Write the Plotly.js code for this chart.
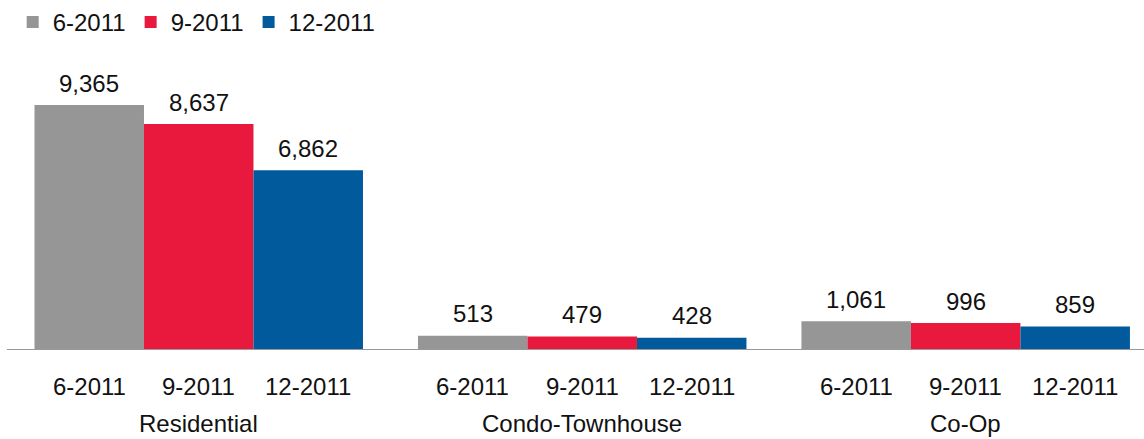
<!DOCTYPE html>
<html>
<head>
<meta charset="utf-8">
<script src="https://cdn.plot.ly/plotly-3.0.1.min.js"></script>
<style>html,body{margin:0;padding:0;background:#fff;}#chart{width:1144px;height:439px;}</style>
</head>
<body>
<div id="chart"></div>
<script>
const groups = ['Residential', 'Condo-Townhouse', 'Co-Op'];
const periods = ['6-2011', '9-2011', '12-2011'];
const values_6_2011 = [9365, 513, 1061];
const values_9_2011 = [8637, 479, 996];
const values_12_2011 = [6862, 428, 859];
const seriesValues = [values_6_2011, values_9_2011, values_12_2011];
const colors = ['#969696', '#E8193C', '#005A9C'];

const FONT = 'Liberation Sans, Arial, Helvetica, sans-serif';
const FS = 24;
const bargap = 0.1434;

const traces = periods.map((p, j) => ({
  type: 'bar',
  name: p,
  x: groups,
  y: seriesValues[j],
  marker: {color: colors[j], line: {width: 0}},
  hoverinfo: 'none'
}));

const annotations = [];
groups.forEach((g, i) => {
  periods.forEach((p, j) => {
    const xc = i + (j - 1) * (1 - bargap) / 3;
    annotations.push({
      x: xc, xref: 'x',
      y: 0, yref: 'paper', yshift: -37, yanchor: 'middle',
      text: p, showarrow: false,
      font: {family: FONT, size: FS, color: '#111'}
    });
    const v = seriesValues[j][i];
    annotations.push({
      x: xc, xref: 'x',
      y: v, yref: 'y', yshift: 22, yanchor: 'middle',
      text: v.toLocaleString('en-US'), showarrow: false,
      font: {family: FONT, size: FS, color: '#111'}
    });
  });
  annotations.push({
    x: i, xref: 'x', y: 0, yref: 'paper', yshift: -74, yanchor: 'middle',
    text: g, showarrow: false,
    font: {family: FONT, size: FS, color: '#111'}
  });
});

const layout = {
  width: 1144, height: 439,
  margin: {l: 7, r: 0, t: 50, b: 90},
  paper_bgcolor: '#fff', plot_bgcolor: '#fff',
  barmode: 'group', bargap: bargap, bargroupgap: 0,
  showlegend: true,
  legend: {
    orientation: 'h', x: 0.005, xanchor: 'left', y: 1, yref: 'container', yanchor: 'top',
    font: {family: FONT, size: FS, color: '#111'},
    traceorder: 'normal', bgcolor: 'rgba(0,0,0,0)'
  },
  xaxis: {
    type: 'category', range: [-0.5, 2.465],
    showline: true, linecolor: '#999', linewidth: 1,
    showgrid: false, zeroline: false, ticks: '', showticklabels: false
  },
  yaxis: {visible: false, range: [0, 11478], showgrid: false, zeroline: false},
  annotations: annotations
};

Plotly.newPlot('chart', traces, layout, {displayModeBar: false, staticPlot: true});
</script>
</body>
</html>
